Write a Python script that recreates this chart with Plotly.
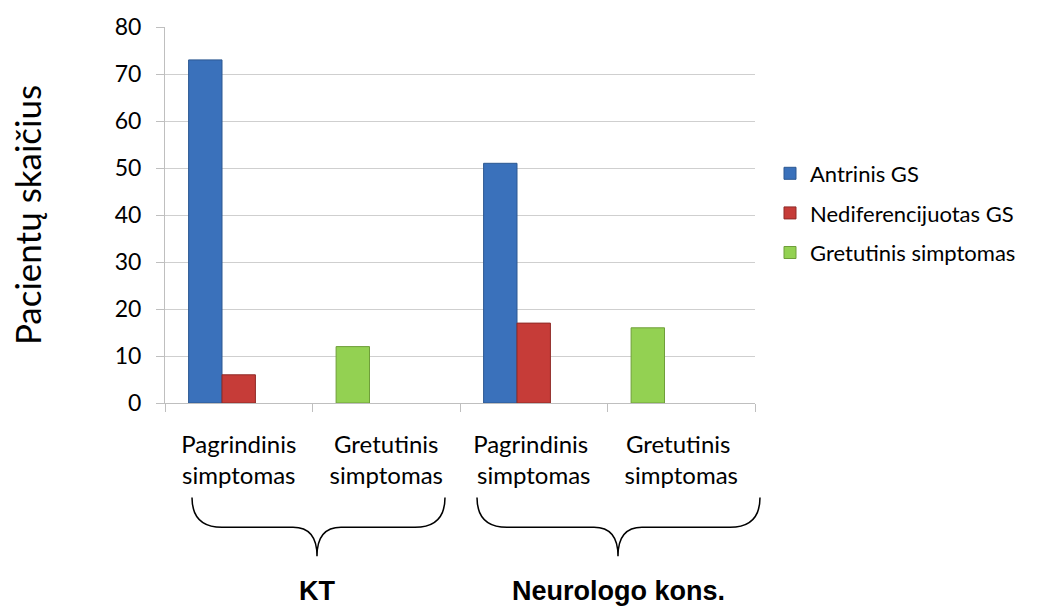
import plotly.graph_objects as go

# Category labels along the x axis (two per examination group)
categories = [
    "Pagrindinis<br>simptomas",
    "Gretutinis<br>simptomas",
    "Pagrindinis <br>simptomas",
    "Gretutinis <br>simptomas",
]
groups = ["KT", "Neurologo kons."]

# Patient counts per series (None = no bar in that category)
antrinis_gs = [73, None, 51, None]
nediferencijuotas_gs = [6, None, 17, None]
gretutinis_simptomas = [None, 12, None, 16]

y_ticks = [0, 10, 20, 30, 40, 50, 60, 70, 80]

BODY_FONT = "Lato, Calibri, Carlito, sans-serif"
BOLD_FONT = "Arial, Liberation Sans, sans-serif"

# Plot-area geometry in pixels
W, H = 1037, 608
L, R, T, B = 165, 755, 25, 403

BAR_W = 0.2265          # width of one bar in category units
SLOT1 = -0.34           # offset of first slot in a category
SLOT2 = SLOT1 + BAR_W   # offset of second slot

fig = go.Figure()
fig.add_trace(go.Bar(
    name="Antrinis GS", x=categories, y=antrinis_gs,
    width=BAR_W, offset=SLOT1,
    marker=dict(color="#3a71bb", line=dict(color="#2c5891", width=1)),
    legendgroup="a",
))
fig.add_trace(go.Bar(
    name="Nediferencijuotas GS", x=categories, y=nediferencijuotas_gs,
    width=BAR_W, offset=SLOT2,
    marker=dict(color="#c63c38", line=dict(color="#8f2a27", width=1)),
    legendgroup="b",
))
fig.add_trace(go.Bar(
    name="Gretutinis simptomas", x=categories, y=gretutinis_simptomas,
    width=BAR_W, offset=SLOT1,
    marker=dict(color="#93d152", line=dict(color="#6f9e3a", width=1)),
    legendgroup="c",
))


def px_x(v):
    return (v - L) / (R - L)


def px_y(v):
    return (B - v) / (B - T)


def brace_path(x0, x1, xm, ytop, ymid, ytip, r=30, r2=24):
    pts = [
        ("M", [(x0, ytop)]),
        ("Q", [(x0, ymid), (x0 + r, ymid)]),
        ("L", [(xm - r2, ymid)]),
        ("Q", [(xm, ymid), (xm, ytip)]),
        ("Q", [(xm, ymid), (xm + r2, ymid)]),
        ("L", [(x1 - r, ymid)]),
        ("Q", [(x1, ymid), (x1, ytop)]),
    ]
    out = []
    for cmd, coords in pts:
        out.append(cmd + " " + " ".join(f"{px_x(a):.5f},{px_y(b):.5f}" for a, b in coords))
    return " ".join(out)


brace_specs = [(192, 445, 317), (477, 760, 618)]
for (x0, x1, xm), label in zip(brace_specs, groups):
    fig.add_shape(
        type="path", xref="paper", yref="paper",
        path=brace_path(x0, x1, xm, 498, 528, 557),
        line=dict(color="black", width=1.5),
    )
    fig.add_annotation(
        x=px_x(xm), y=px_y(592), xref="paper", yref="paper",
        text=f"<b>{label}</b>", showarrow=False,
        font=dict(family=BOLD_FONT, size=27, color="black"),
        xanchor="center", yanchor="middle",
    )

fig.update_layout(
    width=W, height=H,
    margin=dict(l=L, r=W - R, t=T, b=H - B, pad=0),
    paper_bgcolor="white", plot_bgcolor="white",
    barmode="overlay",
    showlegend=True,
    legend=dict(
        x=px_x(770), y=px_y(212), xanchor="left", yanchor="middle",
        font=dict(family=BODY_FONT, size=22, color="black"),
        traceorder="grouped", tracegroupgap=8,
        itemwidth=30, bgcolor="rgba(0,0,0,0)",
    ),
    font=dict(family=BODY_FONT, color="black"),
)

fig.update_xaxes(
    type="category",
    showline=True, linecolor="#bfbfbf", linewidth=1,
    ticks="outside", tickson="boundaries", ticklen=8, tickcolor="#bfbfbf",
    tickfont=dict(family=BODY_FONT, size=24, color="black"),
    ticklabelstandoff=20,
    showgrid=False, zeroline=False,
)
fig.update_yaxes(
    range=[0, 80], tickvals=y_ticks,
    showline=True, linecolor="#bfbfbf", linewidth=1,
    ticks="outside", ticklen=8, tickcolor="#bfbfbf",
    tickfont=dict(family=BODY_FONT, size=23, color="black"),
    ticklabelstandoff=10,
    showgrid=True, gridcolor="#cfcfcf", gridwidth=1,
    zeroline=False,
    title=dict(text="Pacientų skaičius",
               font=dict(family=BODY_FONT, size=35, color="black"),
               standoff=62),
)

fig.write_html("out.html")
